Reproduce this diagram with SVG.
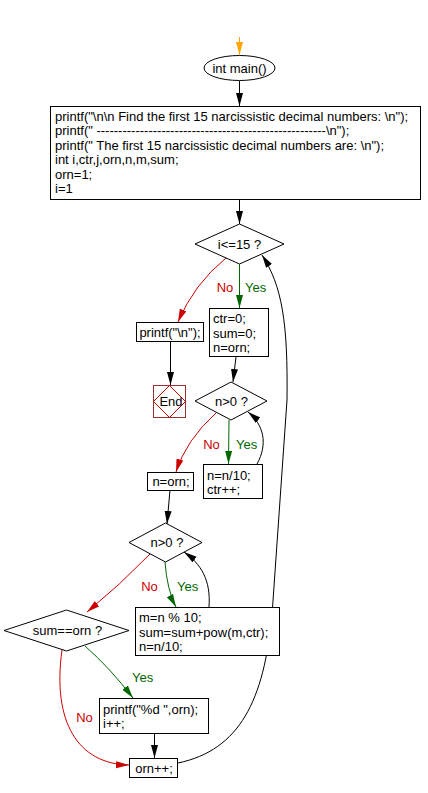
<svg xmlns="http://www.w3.org/2000/svg" width="428" height="793" viewBox="0 0 428 793">
<style>
text{font-family:"Liberation Sans",Arial,sans-serif;font-size:13px;fill:#000}
.c{text-anchor:middle}
.box{fill:#fff;stroke:#000;stroke-width:1}
.ln{fill:none;stroke:#000;stroke-width:1}
.red{fill:none;stroke:#cc0000;stroke-width:1}
.grn{fill:none;stroke:#006600;stroke-width:1}
.org{fill:none;stroke:#ffa500;stroke-width:1}
.tr{fill:#cc0000}
.tg{fill:#006600}
</style>
<defs>
<marker id="ab" markerUnits="userSpaceOnUse" markerWidth="14" markerHeight="8" refX="13" refY="4" orient="auto"><path d="M0,0.5 L13,4 L0,7.5 z" fill="#000"/></marker>
<marker id="ar" markerUnits="userSpaceOnUse" markerWidth="14" markerHeight="8" refX="13" refY="4" orient="auto"><path d="M0,0.5 L13,4 L0,7.5 z" fill="#cc0000"/></marker>
<marker id="ag" markerUnits="userSpaceOnUse" markerWidth="14" markerHeight="8" refX="13" refY="4" orient="auto"><path d="M0,0.5 L13,4 L0,7.5 z" fill="#006600"/></marker>
<marker id="ao" markerUnits="userSpaceOnUse" markerWidth="14" markerHeight="8" refX="13" refY="4" orient="auto"><path d="M0,0.5 L13,4 L0,7.5 z" fill="#ffa500"/></marker>
</defs>
<rect width="428" height="793" fill="#fff"/>
<g id="connectors">
<path class="org" d="M239.5,37 L239.5,55" marker-end="url(#ao)"/>
<path class="ln" d="M239.5,81 L239.5,106" marker-end="url(#ab)"/>
<path class="ln" d="M239.5,200 L239.5,224" marker-end="url(#ab)"/>
<path class="grn" d="M239.5,264 L239.5,308" marker-end="url(#ag)"/>
<path class="red" d="M226,258 Q194,284 178,322" marker-end="url(#ar)"/>
<path class="ln" d="M170.5,342 L170.5,385" marker-end="url(#ab)"/>
<path class="ln" d="M236,357 L233,382" marker-end="url(#ab)"/>
<path class="grn" d="M229,420 L228.5,464" marker-end="url(#ag)"/>
<path class="red" d="M216,413 Q186,440 176,472" marker-end="url(#ar)"/>
<path class="ln" d="M257,464 C268,444 264,425 248,412" marker-end="url(#ab)"/>
<path class="ln" d="M170,490 L167,524" marker-end="url(#ab)"/>
<path class="grn" d="M165,562 Q167,590 176,607" marker-end="url(#ag)"/>
<path class="red" d="M150,554 Q120,585 87,612" marker-end="url(#ar)"/>
<path class="ln" d="M209,607 C211,580 201,564 184,552" marker-end="url(#ab)"/>
<path class="grn" d="M85,646 Q110,668 133,698" marker-end="url(#ag)"/>
<path class="ln" d="M154.5,733 L154.5,758" marker-end="url(#ab)"/>
<path class="red" d="M62,650 C52,722 78,764 129,765" marker-end="url(#ar)"/>
<path class="ln" d="M178,763 C240,750 264,700 272,615 L287,400 C288,322 282,286 262,255" marker-end="url(#ab)"/>
<text class="tr c" x="225" y="291.5">No</text>
<text class="tg" x="245" y="291.5">Yes</text>
<text class="tr c" x="211.5" y="448.5">No</text>
<text class="tg" x="236" y="448.5">Yes</text>
<text class="tr c" x="149.5" y="590.5">No</text>
<text class="tg" x="177" y="590.5">Yes</text>
<text class="tg" x="132" y="682">Yes</text>
<text class="tr c" x="84.5" y="722">No</text>
</g>
<g id="start">
<ellipse class="box" cx="239.5" cy="68" rx="35.5" ry="12.5"/>
<text class="c" x="239.5" y="72.5">int main()</text>
</g>
<g id="init">
<rect class="box" x="50.5" y="106.5" width="370" height="93"/>
<text x="55" y="120.5">printf("\n\n Find the first 15 narcissistic decimal numbers: \n");</text>
<text x="55" y="135">printf(" -----------------------------------------------------\n");</text>
<text x="55" y="149.5">printf(" The first 15 narcissistic decimal numbers are: \n");</text>
<text x="55" y="164">int i,ctr,j,orn,n,m,sum;</text>
<text x="55" y="178.5">orn=1;</text>
<text x="55" y="193">i=1</text>
</g>
<g id="cond1">
<polygon class="box" points="239.5,224 284,244 239.5,264 195,244"/>
<text class="c" x="239.5" y="248.5">i&lt;=15 ?</text>
</g>
<g id="printnl">
<rect class="box" x="136.5" y="322.5" width="67" height="19"/>
<text class="c" x="170" y="336.5">printf("\n");</text>
</g>
<g id="end">
<rect x="153.5" y="385.5" width="32" height="32" fill="#fff" stroke="#993333"/>
<polygon points="169.5,385.5 185.5,401.5 169.5,417.5 153.5,401.5" fill="none" stroke="#cc0000"/>
<text class="c" x="171" y="406">End</text>
</g>
<g id="init2">
<rect class="box" x="209.5" y="308.5" width="59" height="48"/>
<text x="213" y="323">ctr=0;</text>
<text x="213" y="337.5">sum=0;</text>
<text x="213" y="352">n=orn;</text>
</g>
<g id="cond2">
<polygon class="box" points="231,382 267,401 231,420 195,401"/>
<text class="c" x="231.5" y="405.5">n&gt;0 ?</text>
</g>
<g id="count">
<rect class="box" x="203.5" y="464.5" width="59" height="34"/>
<text x="207" y="480">n=n/10;</text>
<text x="207" y="494">ctr++;</text>
</g>
<g id="reset">
<rect class="box" x="147.5" y="472.5" width="46" height="18"/>
<text class="c" x="171" y="486">n=orn;</text>
</g>
<g id="cond3">
<polygon class="box" points="165.5,523 202,542.5 165.5,562 129,542.5"/>
<text class="c" x="167" y="547">n&gt;0 ?</text>
</g>
<g id="sumup">
<rect class="box" x="135.5" y="607.5" width="144" height="48"/>
<text x="139" y="622">m=n % 10;</text>
<text x="139" y="636.5">sum=sum+pow(m,ctr);</text>
<text x="139" y="651">n=n/10;</text>
</g>
<g id="cond4">
<polygon class="box" points="66.5,610 129,630.5 66.5,651 4,630.5"/>
<text class="c" x="67.5" y="635">sum==orn ?</text>
</g>
<g id="print">
<rect class="box" x="99.5" y="698.5" width="109" height="35"/>
<text x="103" y="714">printf("%d ",orn);</text>
<text x="103" y="728">i++;</text>
</g>
<g id="incr">
<rect class="box" x="129.5" y="758.5" width="48" height="19"/>
<text class="c" x="154" y="772.5">orn++;</text>
</g>
</svg>
